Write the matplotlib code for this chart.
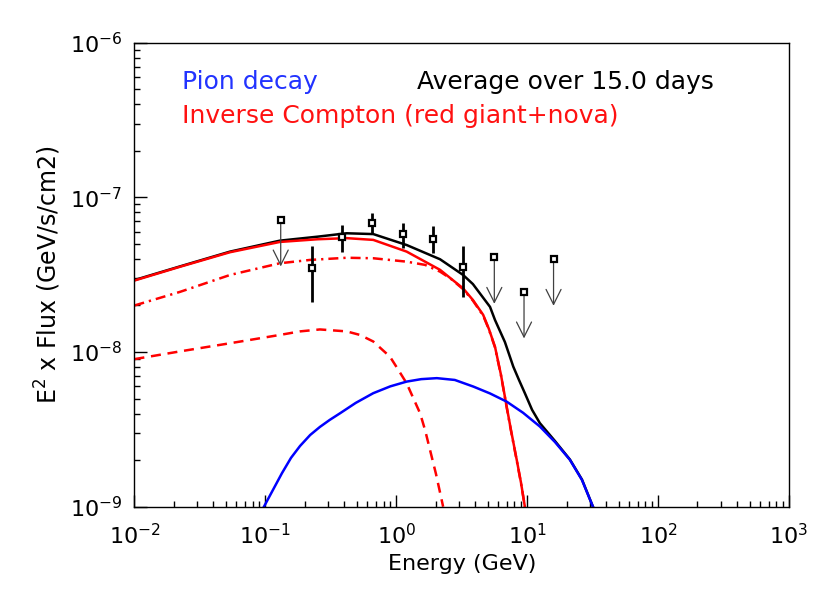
#!/usr/bin/env python3
"""
Nova gamma-ray SED: pion decay and inverse Compton model curves
with Fermi-like flux points and upper limits (average over 15 days).
"""

import matplotlib
matplotlib.use("Agg")
import matplotlib.pyplot as plt
import numpy as np

# ---- model curves (E in GeV, E^2 x Flux in GeV/s/cm2) ----
total_E = [0.01, 0.0223, 0.0537, 0.129, 0.25, 0.418, 0.667, 1.20, 2.16, 3.24,
           3.85, 5.20, 5.68, 6.76, 7.83, 8.65, 9.6, 10.9, 12.5, 16.3, 21.2, 26.2, 31.8]
total_F = [2.92e-8, 3.58e-8, 4.46e-8, 5.25e-8, 5.57e-8, 5.86e-8, 5.79e-8, 4.92e-8,
           3.98e-8, 3.15e-8, 2.75e-8, 1.96e-8, 1.61e-8, 1.16e-8, 8.05e-9, 6.61e-9,
           5.42e-9, 4.23e-9, 3.47e-9, 2.66e-9, 2.02e-9, 1.50e-9, 1.0e-9]

ic_E = [0.01, 0.0223, 0.0537, 0.129, 0.25, 0.418, 0.667, 1.20, 2.16, 3.24,
        3.85, 4.61, 5.10, 5.68, 6.31, 6.97, 7.52, 8.32, 8.97, 9.6]
ic_F = [2.90e-8, 3.56e-8, 4.42e-8, 5.15e-8, 5.36e-8, 5.45e-8, 5.31e-8, 4.46e-8,
        3.40e-8, 2.58e-8, 2.17e-8, 1.74e-8, 1.41e-8, 1.08e-8, 7.11e-9, 4.44e-9,
        3.13e-9, 2.01e-9, 1.43e-9, 1.0e-9]

# IC on nova photons (dash-dot) and on red giant photons (dashed)
ic_nova_E = [0.01, 0.0223, 0.0537, 0.129, 0.219, 0.418, 0.667, 1.20, 1.66, 2.16,
             2.58, 3.24, 3.85, 4.61, 5.10, 5.68, 6.31, 6.97, 7.52, 8.32, 8.97, 9.6]
ic_nova_F = [2.0e-8, 2.45e-8, 3.15e-8, 3.75e-8, 3.94e-8, 4.07e-8, 4.04e-8, 3.84e-8,
             3.66e-8, 3.31e-8, 3.0e-8, 2.55e-8, 2.15e-8, 1.72e-8, 1.40e-8, 1.07e-8,
             7.05e-9, 4.40e-9, 3.10e-9, 1.99e-9, 1.42e-9, 1.0e-9]

ic_rg_E = [0.01, 0.0223, 0.0537, 0.129, 0.184, 0.261, 0.418, 0.528, 0.667, 0.895,
           1.03, 1.20, 1.34, 1.52, 1.66, 1.81, 2.01, 2.22, 2.28]
ic_rg_F = [9.0e-9, 1.01e-8, 1.14e-8, 1.29e-8, 1.36e-8, 1.40e-8, 1.36e-8, 1.29e-8,
           1.17e-8, 9.33e-9, 7.74e-9, 6.28e-9, 5.10e-9, 4.02e-9, 3.13e-9, 2.33e-9,
           1.63e-9, 1.11e-9, 1.0e-9]

pion_E = [0.0975, 0.134, 0.157, 0.184, 0.22, 0.261, 0.31, 0.372, 0.49,
          0.667, 0.90, 1.20, 1.55, 2.04, 2.80, 3.88, 5.2, 6.97, 9.3, 12.5, 16.3,
          21.2, 26.2, 31.8]
pion_F = [1.0e-9, 1.65e-9, 2.07e-9, 2.47e-9, 2.91e-9, 3.28e-9, 3.64e-9,
          4.02e-9, 4.69e-9, 5.42e-9, 6.00e-9, 6.44e-9, 6.68e-9, 6.78e-9, 6.60e-9,
          5.98e-9, 5.40e-9, 4.78e-9, 4.05e-9, 3.30e-9, 2.62e-9, 2.01e-9, 1.49e-9, 1.0e-9]

# ---- data points ----
pts_E = [0.226, 0.383, 0.656, 1.12, 1.91, 3.25]
pts_F = [3.48e-8, 5.57e-8, 6.81e-8, 5.77e-8, 5.38e-8, 3.56e-8]
pts_lo = [2.12e-8, 4.46e-8, 5.86e-8, 4.69e-8, 4.35e-8, 2.26e-8]
pts_hi = [4.85e-8, 6.64e-8, 7.89e-8, 6.86e-8, 6.53e-8, 4.85e-8]

ul_E = [0.131, 5.61, 9.46, 15.9]
ul_F = [7.15e-8, 4.10e-8, 2.45e-8, 3.98e-8]


def main() -> None:
	plt.rcParams["font.family"] = "DejaVu Sans"
	plt.rcParams["mathtext.fontset"] = "dejavusans"

	fig = plt.figure(figsize=(8.3, 5.93), dpi=100)
	ax = fig.add_axes([0.162, 0.1455, 0.7886, 0.7825])

	lw = 1.8
	ax.plot(total_E, total_F, color="black", lw=lw)
	ax.plot(ic_E, ic_F, color="red", lw=lw)
	ax.plot(ic_nova_E, ic_nova_F, color="red", lw=lw, dashes=(4.0, 2.0, 0.9, 2.0))
	ax.plot(ic_rg_E, ic_rg_F, color="red", lw=lw, dashes=(4.0, 2.7))
	ax.plot(pion_E, pion_F, color="blue", lw=lw)

	# upper limits: open square with an arrow down to half the value
	for e, f in zip(ul_E, ul_F):
		ax.annotate("", xy=(e, f / 2.0), xytext=(e, f),
		            arrowprops=dict(arrowstyle="->,head_length=0.6,head_width=0.3",
		                            color="0.25", lw=0.9, shrinkA=0, shrinkB=0,
		                            mutation_scale=18))
	ax.plot(ul_E, ul_F, "s", ms=5, mfc="white", mec="black", mew=1.6, zorder=5)

	F = np.array(pts_F)
	yerr = [F - np.array(pts_lo), np.array(pts_hi) - F]
	ax.errorbar(pts_E, pts_F, yerr=yerr, fmt="s", ms=5, mfc="white", mec="black",
	            mew=1.6, ecolor="black", elinewidth=2.0, capsize=0, zorder=5)

	ax.set_xscale("log")
	ax.set_yscale("log")
	ax.set_xlim(1e-2, 1e3)
	ax.set_ylim(1e-9, 1e-6)

	ax.tick_params(which="both", direction="in", top=False, right=False,
	               labelsize=16, width=1.0)
	ax.tick_params(axis="x", which="both", pad=12)
	ax.tick_params(axis="y", which="both", pad=9)
	ax.tick_params(which="major", length=9)
	ax.tick_params(which="minor", length=4.5)
	for s in ax.spines.values():
		s.set_linewidth(1.0)

	ax.set_xlabel("Energy (GeV)", fontsize=16, labelpad=4)
	ax.set_ylabel("E$^2$ x Flux (GeV/s/cm2)", fontsize=17, labelpad=5)

	ax.text(0.0726, 0.915, "Pion decay", color="#2233ff", fontsize=18,
	        transform=ax.transAxes, va="center")
	ax.text(0.0726, 0.842, "Inverse Compton (red giant+nova)", color="#ff1111",
	        fontsize=18, transform=ax.transAxes, va="center")
	ax.text(0.432, 0.915, "Average over 15.0 days", color="black", fontsize=18,
	        transform=ax.transAxes, va="center")

	fig.savefig("out.png", dpi=100)
	plt.close(fig)


if __name__ == "__main__":
	main()
